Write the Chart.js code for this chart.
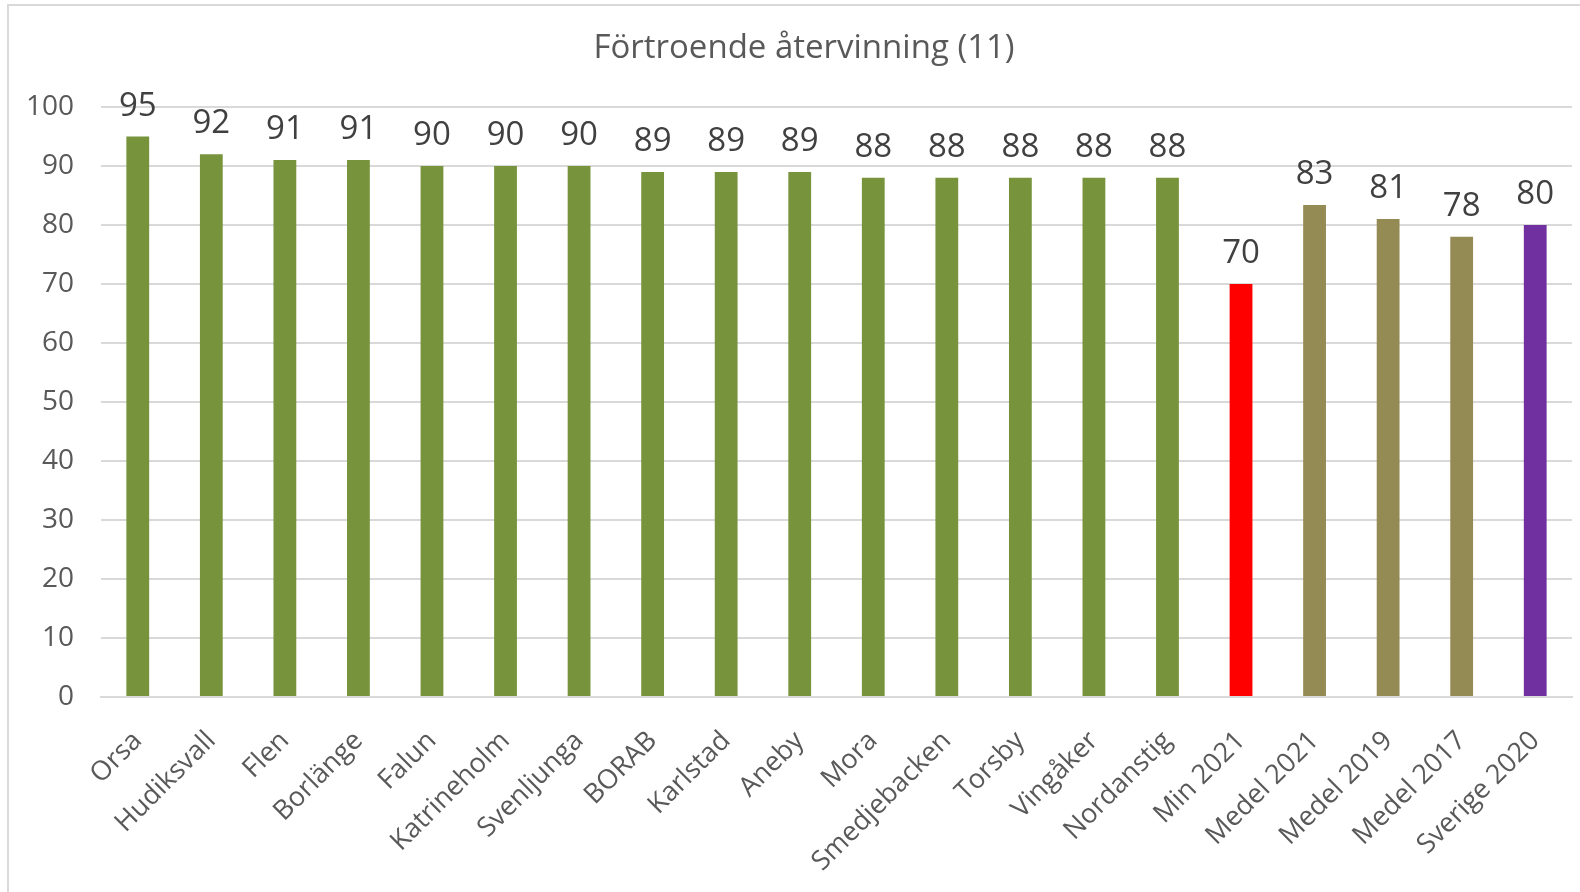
<!DOCTYPE html>
<html lang="sv">
<head>
<meta charset="utf-8">
<script src="https://cdn.jsdelivr.net/npm/chart.js@4"></script>
<style>
  html, body { margin: 0; padding: 0; background: #fff; }
  #wrap { position: relative; width: 1580px; height: 892px; }
  /* tunn ram som i originalet (bara vänster + topp syns) */
  #frame { position: absolute; left: 7px; top: 4px; width: 1600px; height: 900px; border-left: 2px solid #d9d9d9; border-top: 2px solid #d9d9d9; }
  #chart { position: absolute; left: 0; top: 0; }
</style>
</head>
<body>
<div id="wrap">
  <div id="frame"></div>
  <canvas id="chart" width="1580" height="892"></canvas>
</div>
<script>
  // data
  const chartTitle = 'Förtroende återvinning (11)';
  const categories = ['Orsa', 'Hudiksvall', 'Flen', 'Borlänge', 'Falun', 'Katrineholm', 'Svenljunga', 'BORAB', 'Karlstad', 'Aneby', 'Mora', 'Smedjebacken', 'Torsby', 'Vingåker', 'Nordanstig', 'Min 2021', 'Medel 2021', 'Medel 2019', 'Medel 2017', 'Sverige 2020'];
  const values = [95, 92, 91, 91, 90, 90, 90, 89, 89, 89, 88, 88, 88, 88, 88, 70, 83.4, 81, 78, 80];
  const barColors = ['#77933c', '#77933c', '#77933c', '#77933c', '#77933c', '#77933c', '#77933c', '#77933c', '#77933c', '#77933c', '#77933c', '#77933c', '#77933c', '#77933c', '#77933c', '#ff0000', '#948a54', '#948a54', '#948a54', '#7030a0'];
  const yTicks = [0, 10, 20, 30, 40, 50, 60, 70, 80, 90, 100];

  const FONT = '"Open Sans", "DejaVu Sans", sans-serif';

  // värden ovanför staplarna + rubrik (lite till höger om mitten, som i Excel)
  const valueLabels = {
    id: 'valueLabels',
    afterDatasetsDraw(chart) {
      const ctx = chart.ctx;
      const meta = chart.getDatasetMeta(0);
      ctx.save();
      ctx.font = '33px ' + FONT;
      ctx.fillStyle = '#404040';
      ctx.textAlign = 'center';
      ctx.textBaseline = 'alphabetic';
      meta.data.forEach((bar, i) => {
        ctx.fillText(String(Math.round(values[i])), bar.x, bar.y - 21);
      });
      ctx.fillStyle = '#595959';
      ctx.textBaseline = 'middle';
      ctx.fillText(chartTitle, 804, 49);
      ctx.restore();
    }
  };

  const ctx = document.getElementById('chart').getContext('2d');
  new Chart(ctx, {
    type: 'bar',
    data: {
      labels: categories,
      datasets: [{
        data: values,
        backgroundColor: barColors,
        borderWidth: 0,
        categoryPercentage: 1,
        barPercentage: 0.31
      }]
    },
    options: {
      responsive: false,
      animation: false,
      layout: { padding: { left: 8, right: 8, top: 107, bottom: 0 } },
      plugins: {
        legend: { display: false },
        tooltip: { enabled: false },
        title: { display: false }
      },
      scales: {
        x: {
          grid: { display: false, drawTicks: false },
          border: { display: true, color: '#d9d9d9', width: 2 },
          ticks: {
            color: '#595959',
            font: { family: FONT, size: 27 },
            minRotation: 45,
            maxRotation: 45,
            autoSkip: false,
            padding: 28
          },
          afterFit(scale) {
            scale.height = 195;
            scale.paddingLeft = 0;
            scale.paddingRight = 0;
          }
        },
        y: {
          min: 0,
          max: 100,
          afterBuildTicks(scale) { scale.ticks = yTicks.map(v => ({ value: v })); },
          grid: { color: '#d9d9d9', lineWidth: 2, drawTicks: false },
          border: { display: false },
          ticks: {
            color: '#595959',
            font: { family: FONT, size: 28 },
            padding: 27
          },
          afterFit(scale) { scale.width = 93; }
        }
      }
    },
    plugins: [valueLabels]
  });
</script>
</body>
</html>
